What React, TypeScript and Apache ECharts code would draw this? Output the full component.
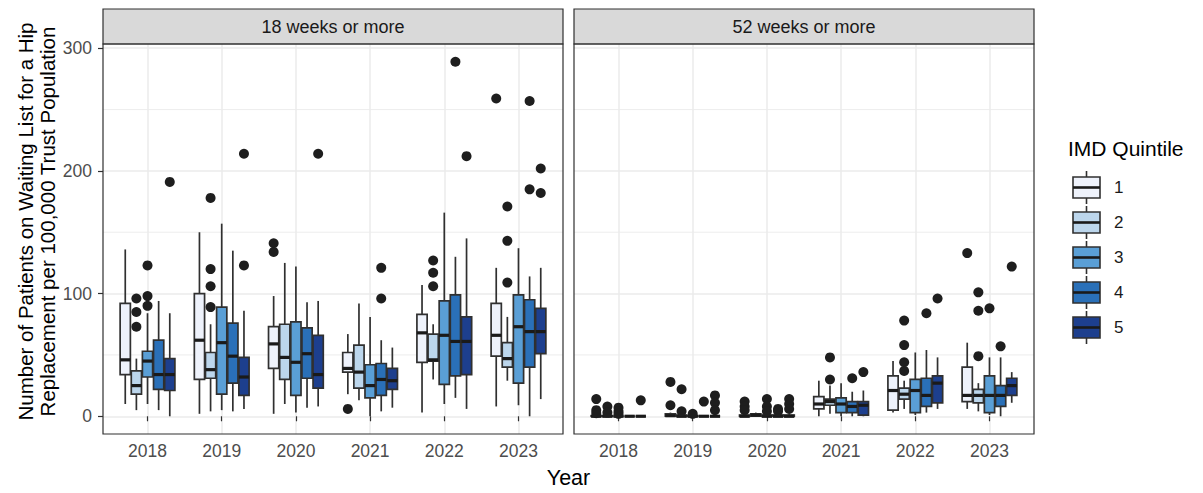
import React, { useEffect, useRef } from 'react';
import * as echarts from 'echarts';

const years = ['2018', '2019', '2020', '2021', '2022', '2023'];
const quintiles = ['1', '2', '3', '4', '5'];
const quintileColors = ['#EEF2FB', '#BCD6EC', '#5A9FD6', '#2A70B8', '#1D3F8E'];
const panelTitles = ['18 weeks or more', '52 weeks or more'];
const yTicks = [0, 100, 200, 300];
const yMinorTicks = [50, 150, 250];

// Each row: [lower whisker, Q1, median, Q3, upper whisker], one row per year 2018..2023
const w18Q1 = [[10, 34, 46, 92, 136], [2, 30, 62, 100, 150], [2, 39, 59, 73, 98], [18, 36, 39, 52, 67], [3, 44, 68, 83, 107], [8, 49, 66, 92, 121]];
const w18Q2 = [[5, 18, 25, 37, 47], [4, 31, 38, 52, 75], [10, 30, 48, 75, 125], [13, 23, 36, 58, 92], [30, 45, 46, 67, 75], [29, 40, 47, 60, 81]];
const w18Q3 = [[10, 32, 45, 53, 84], [5, 18, 60, 89, 157], [3, 17, 44, 77, 122], [0, 15, 25, 42, 81], [10, 26, 66, 94, 166], [9, 27, 73, 99, 137]];
const w18Q4 = [[5, 22, 34, 62, 94], [4, 27, 49, 76, 135], [7, 31, 51, 72, 93], [4, 17, 30, 43, 62], [15, 33, 61, 99, 130], [0, 40, 69, 95, 114]];
const w18Q5 = [[0, 21, 34, 47, 84], [6, 17, 32, 48, 86], [8, 23, 34, 66, 94], [7, 22, 29, 39, 56], [6, 34, 61, 81, 145], [14, 51, 69, 88, 121]];

const w52Q1 = [[0, 0, 0, 0.5, 1], [0, 0, 0.5, 2, 3], [0, 0, 0, 1, 2], [0, 6, 10, 16, 29], [3, 5, 21, 33, 45], [6, 12, 17, 40, 60]];
const w52Q2 = [[0, 0, 0, 0.5, 1], [0, 0, 0, 1, 2], [0, 0, 1, 2, 3], [2, 9, 12, 14, 25], [6, 14, 18, 23, 29], [4, 11, 17, 22, 27]];
const w52Q3 = [[0, 0, 0, 0, 1], [0, 0, 0, 0.5, 1], [0, 0, 0, 1, 2], [0, 3, 10, 15, 27], [1, 3, 21, 30, 52], [1, 3, 17, 33, 48]];
const w52Q4 = [[0, 0, 0, 0, 0], [0, 0, 0, 0, 0], [0, 0, 0, 1, 2], [0, 3, 8, 12, 20], [3, 8, 17, 31, 54], [0, 8, 17, 25, 48]];
const w52Q5 = [[0, 0, 0, 0, 0], [0, 0, 0, 0, 0], [0, 0, 0, 1, 2], [0, 1, 9, 12, 21], [6, 11, 27, 33, 48], [11, 17, 25, 31, 36]];

// Outliers: [year, quintile, value]
const w18Outliers: [string, number, number][] = [
  ['2018', 2, 96], ['2018', 2, 85], ['2018', 2, 73],
  ['2018', 3, 123], ['2018', 3, 98], ['2018', 3, 90],
  ['2018', 5, 191],
  ['2019', 2, 178], ['2019', 2, 120], ['2019', 2, 106], ['2019', 2, 89],
  ['2019', 5, 214], ['2019', 5, 123],
  ['2020', 1, 141], ['2020', 1, 134],
  ['2020', 5, 214],
  ['2021', 1, 6],
  ['2021', 4, 121], ['2021', 4, 96],
  ['2022', 2, 127], ['2022', 2, 117], ['2022', 2, 106],
  ['2022', 4, 289],
  ['2022', 5, 212],
  ['2023', 1, 259],
  ['2023', 2, 171], ['2023', 2, 143], ['2023', 2, 109],
  ['2023', 4, 257], ['2023', 4, 185],
  ['2023', 5, 202], ['2023', 5, 182],
];
const w52Outliers: [string, number, number][] = [
  ['2018', 1, 14], ['2018', 1, 5], ['2018', 1, 2.5],
  ['2018', 2, 8], ['2018', 2, 3],
  ['2018', 3, 7], ['2018', 3, 4], ['2018', 3, 2],
  ['2018', 5, 13],
  ['2019', 1, 28], ['2019', 1, 9],
  ['2019', 2, 22], ['2019', 2, 4],
  ['2019', 3, 2],
  ['2019', 4, 12],
  ['2019', 5, 17], ['2019', 5, 11], ['2019', 5, 5],
  ['2020', 1, 12], ['2020', 1, 8], ['2020', 1, 5],
  ['2020', 3, 14], ['2020', 3, 8], ['2020', 3, 4],
  ['2020', 4, 6], ['2020', 4, 4],
  ['2020', 5, 14], ['2020', 5, 10], ['2020', 5, 6],
  ['2021', 2, 48], ['2021', 2, 30],
  ['2021', 4, 31],
  ['2021', 5, 36],
  ['2022', 2, 78], ['2022', 2, 58], ['2022', 2, 44], ['2022', 2, 37],
  ['2022', 4, 84],
  ['2022', 5, 96],
  ['2023', 1, 133],
  ['2023', 2, 101], ['2023', 2, 86], ['2023', 2, 49],
  ['2023', 3, 88],
  ['2023', 4, 57],
  ['2023', 5, 122],
];

const panelBoxes = [
  [w18Q1, w18Q2, w18Q3, w18Q4, w18Q5],
  [w52Q1, w52Q2, w52Q3, w52Q4, w52Q5],
];
const panelOutliers = [w18Outliers, w52Outliers];

const FONT = "'Liberation Sans', Arial, Helvetica, sans-serif";
const DODGE = 0.15;
const BOX_W = 0.138;
const Y_MIN = -14.45;
const Y_MAX = 303.45;
const X_MIN = 0.4;
const X_MAX = 6.6;
const LINE = '#303030';
const GRID_C = '#EBEBEB';

const PANEL_TOP = 44;
const PANEL_BOTTOM = 434;
const STRIP_TOP = 9;
const panelLeft = [103, 574];
const PANEL_W = 460;

function buildOption() {
  const grids = panelLeft.map((l) => ({
    left: l,
    top: PANEL_TOP,
    width: PANEL_W,
    height: PANEL_BOTTOM - PANEL_TOP,
    containLabel: false,
  }));

  const xAxes = panelLeft.map((_, i) => ({
    type: 'value',
    gridIndex: i,
    min: X_MIN,
    max: X_MAX,
    minInterval: 1,
    maxInterval: 1,
    axisLine: { show: false },
    axisTick: {
      show: true,
      length: 5,
      customValues: years.map((_, k) => k + 1),
      lineStyle: { color: LINE, width: 1.2 },
    },
    axisLabel: {
      show: true,
      customValues: years.map((_, k) => k + 1),
      formatter: (v: number) => (Math.abs(v - Math.round(v)) < 1e-6 ? years[Math.round(v) - 1] ?? '' : ''),
      color: '#4D4D4D',
      fontSize: 17.5,
      fontFamily: FONT,
      margin: 8,
    },
    splitLine: { show: true, lineStyle: { color: GRID_C, width: 1.5 } },
  }));

  const yAxes = panelLeft.map((_, i) => ({
    type: 'value',
    gridIndex: i,
    min: Y_MIN,
    max: Y_MAX,
    minInterval: 100,
    maxInterval: 100,
    axisLine: { show: false },
    axisTick: {
      show: i === 0,
      length: 5,
      customValues: yTicks,
      lineStyle: { color: LINE, width: 1.2 },
    },
    axisLabel: {
      show: i === 0,
      customValues: yTicks,
      formatter: (v: number) => (yTicks.includes(v) ? String(v) : ''),
      color: '#4D4D4D',
      fontSize: 17.5,
      fontFamily: FONT,
      margin: 11,
    },
    splitLine: { show: true, lineStyle: { color: GRID_C, width: 1.5 } },
  }));

  const series: any[] = [];

  panelLeft.forEach((_, p) => {
    // minor horizontal grid lines
    series.push({
      type: 'custom',
      xAxisIndex: p,
      yAxisIndex: p,
      z: 1,
      silent: true,
      data: yMinorTicks.map((v) => [1, v]),
      encode: { x: 0, y: 1 },
      renderItem: (params: any, api: any) => {
        const cs = params.coordSys;
        const y = api.coord([1, api.value(1)])[1];
        return {
          type: 'line',
          shape: { x1: cs.x, y1: y, x2: cs.x + cs.width, y2: y },
          style: { stroke: GRID_C, lineWidth: 0.9 },
        };
      },
    });

    panelBoxes[p].forEach((rows, q) => {
      const color = quintileColors[q];
      const offset = (q - 2) * DODGE;
      series.push({
        type: 'custom',
        name: quintiles[q],
        xAxisIndex: p,
        yAxisIndex: p,
        z: 2,
        silent: true,
        data: rows.map((r, k) => [k + 1, ...r]),
        encode: { x: 0, y: [1, 2, 3, 4, 5] },
        renderItem: (params: any, api: any) => {
          const xi = api.value(0) + offset;
          const cx = api.coord([xi, 0])[0];
          const half = api.size([BOX_W, 0])[0] / 2;
          const yLo = api.coord([xi, api.value(1)])[1];
          const yQ1 = api.coord([xi, api.value(2)])[1];
          const yMed = api.coord([xi, api.value(3)])[1];
          const yQ3 = api.coord([xi, api.value(4)])[1];
          const yHi = api.coord([xi, api.value(5)])[1];
          return {
            type: 'group',
            children: [
              { type: 'line', shape: { x1: cx, y1: yHi, x2: cx, y2: yQ3 }, style: { stroke: LINE, lineWidth: 1.7 } },
              { type: 'line', shape: { x1: cx, y1: yQ1, x2: cx, y2: yLo }, style: { stroke: LINE, lineWidth: 1.7 } },
              {
                type: 'rect',
                shape: { x: cx - half, y: yQ3, width: 2 * half, height: yQ1 - yQ3 },
                style: { fill: color, stroke: LINE, lineWidth: 1.7 },
              },
              {
                type: 'line',
                shape: { x1: cx - half, y1: yMed, x2: cx + half, y2: yMed },
                style: { stroke: '#1A1A1A', lineWidth: 3.2 },
              },
            ],
          };
        },
      });
    });

    series.push({
      type: 'scatter',
      xAxisIndex: p,
      yAxisIndex: p,
      z: 3,
      silent: true,
      symbol: 'circle',
      symbolSize: 10,
      itemStyle: { color: '#1E1E1E', opacity: 1 },
      data: panelOutliers[p].map(([yr, q, v]) => [years.indexOf(yr) + 1 + (q - 3) * DODGE, v]),
    });
  });

  const graphics: any[] = [];
  panelLeft.forEach((l, p) => {
    graphics.push({
      type: 'rect',
      z: 100,
      silent: true,
      shape: { x: l, y: STRIP_TOP, width: PANEL_W, height: PANEL_TOP - STRIP_TOP },
      style: { fill: '#D9D9D9', stroke: LINE, lineWidth: 1.2 },
    });
    graphics.push({
      type: 'text',
      z: 101,
      silent: true,
      x: l + PANEL_W / 2,
      y: (STRIP_TOP + PANEL_TOP) / 2,
      style: {
        text: panelTitles[p],
        fill: '#1A1A1A',
        font: `18px ${FONT}`,
        textAlign: 'center',
        textVerticalAlign: 'middle',
      },
    });
    graphics.push({
      type: 'rect',
      z: 100,
      silent: true,
      shape: { x: l, y: PANEL_TOP, width: PANEL_W, height: PANEL_BOTTOM - PANEL_TOP },
      style: { fill: 'none', stroke: LINE, lineWidth: 1.2 },
    });
  });

  // axis titles
  graphics.push({
    type: 'text',
    z: 101,
    silent: true,
    x: 36,
    y: (STRIP_TOP + PANEL_BOTTOM) / 2,
    rotation: Math.PI / 2,
    style: {
      text: 'Number of Patients on Waiting List for a Hip\nReplacement per 100,000 Trust Population',
      fill: '#000000',
      font: `20.5px ${FONT}`,
      lineHeight: 22,
      textAlign: 'center',
      textVerticalAlign: 'middle',
    },
  });
  graphics.push({
    type: 'text',
    z: 101,
    silent: true,
    x: (panelLeft[0] + panelLeft[1] + PANEL_W) / 2,
    y: 478,
    style: {
      text: 'Year',
      fill: '#000000',
      font: `21.5px ${FONT}`,
      textAlign: 'center',
      textVerticalAlign: 'middle',
    },
  });

  // legend
  graphics.push({
    type: 'text',
    z: 101,
    silent: true,
    x: 1068,
    y: 148,
    style: {
      text: 'IMD Quintile',
      fill: '#000000',
      font: `21px ${FONT}`,
      textAlign: 'left',
      textVerticalAlign: 'middle',
    },
  });
  quintiles.forEach((label, q) => {
    const top = 177 + q * 35;
    const left = 1073;
    const w = 27;
    const h = 21;
    const cx = left + w / 2;
    graphics.push({ type: 'line', z: 100, silent: true, shape: { x1: cx, y1: top - 6, x2: cx, y2: top + h + 6 }, style: { stroke: LINE, lineWidth: 1.6 } });
    graphics.push({ type: 'rect', z: 101, silent: true, shape: { x: left, y: top, width: w, height: h }, style: { fill: quintileColors[q], stroke: LINE, lineWidth: 1.6 } });
    graphics.push({ type: 'line', z: 102, silent: true, shape: { x1: left, y1: top + h / 2, x2: left + w, y2: top + h / 2 }, style: { stroke: '#1A1A1A', lineWidth: 2.6 } });
    graphics.push({
      type: 'text',
      z: 101,
      silent: true,
      x: 1114,
      y: top + h / 2,
      style: { text: label, fill: '#1A1A1A', font: `17px ${FONT}`, textAlign: 'left', textVerticalAlign: 'middle' },
    });
  });

  return {
    animation: false,
    backgroundColor: '#FFFFFF',
    textStyle: { fontFamily: FONT },
    grid: grids,
    xAxis: xAxes,
    yAxis: yAxes,
    series,
    graphic: { elements: graphics },
  };
}

export default function App() {
  const ref = useRef<HTMLDivElement>(null);
  useEffect(() => {
    if (!ref.current) return;
    const chart = echarts.init(ref.current, undefined, { renderer: 'svg' });
    chart.setOption(buildOption() as any);
    return () => chart.dispose();
  }, []);
  return (
    <div
      ref={ref}
      style={{ position: 'absolute', left: 0, top: 0, width: 1203, height: 493, background: '#fff' }}
    />
  );
}
